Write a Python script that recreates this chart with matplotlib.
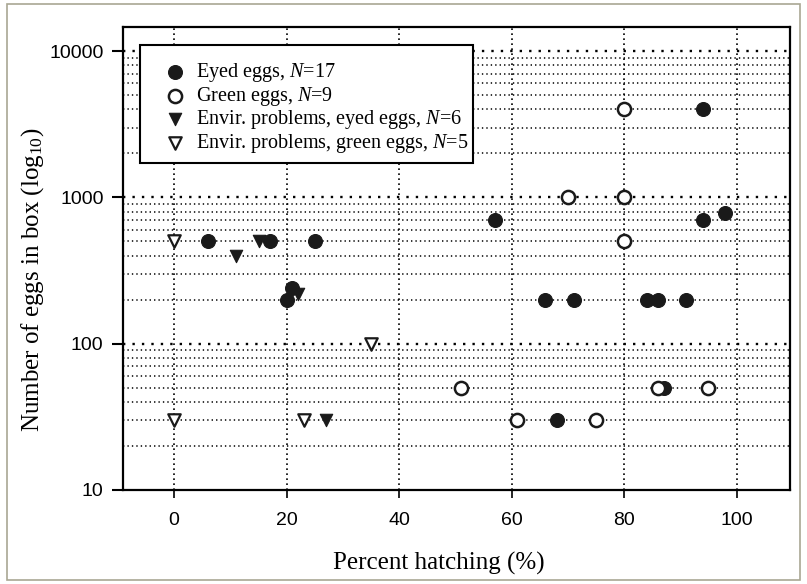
import matplotlib
matplotlib.use('Agg')
import matplotlib.pyplot as plt
from matplotlib.patches import Rectangle
from matplotlib.ticker import FixedLocator, NullFormatter

# percent hatching vs. number of eggs per box
eyed_x = [6, 17, 25, 20, 21, 57, 66, 71, 84, 86, 91, 94, 94, 98, 68, 87]
eyed_y = [500, 500, 500, 200, 240, 700, 200, 200, 200, 200, 200, 4000, 700, 780, 30, 50]

green_x = [80, 70, 80, 80, 51, 61, 75, 86, 95]
green_y = [4000, 1000, 1000, 500, 50, 30, 30, 50, 50]

env_eyed_x = [11, 15, 22, 27]
env_eyed_y = [400, 500, 220, 30]

env_green_x = [0, 0, 23, 35]
env_green_y = [500, 30, 30, 100]

x_ticks = [0, 20, 40, 60, 80, 100]
y_ticks = [10, 100, 1000, 10000]

SERIF = 'Liberation Serif'
SANS = 'Liberation Sans'

plt.rcParams['mathtext.fontset'] = 'custom'
plt.rcParams['mathtext.rm'] = SERIF
plt.rcParams['mathtext.it'] = SERIF + ':italic'

fig = plt.figure(figsize=(8.07, 5.84), dpi=100)
ax = fig.add_axes([0.1524, 0.161, 0.8266, 0.7928])

# thin frame round the whole figure
fig.patches.append(Rectangle((7 / 807, 4 / 584), 793 / 807, 576 / 584,
                             transform=fig.transFigure, fill=False,
                             edgecolor='#a9a793', lw=1.2))

ax.set_yscale('log')
ax.set_xlim(-9.1, 109.5)
ax.set_ylim(10, 14600)

# grid: vertical at major x, horizontal at decades (coarse dots) and steps between (fine dots)
for xv in x_ticks:
    ax.axvline(xv, color='black', lw=1.2, ls=(0, (1, 2)), zorder=1)
for dec in [10, 100, 1000]:
    for k in range(2, 10):
        ax.axhline(dec * k, color='black', lw=1.1, ls=(0, (0.9, 2.0)), zorder=1)
for dec in [100, 1000, 10000]:
    ax.axhline(dec, color='black', lw=1.7, ls=(0, (1, 3.0)), zorder=1)

ms_c = 100
ms_t = 80
ax.scatter(eyed_x, eyed_y, s=ms_c, marker='o', facecolor='#1a1a1a', edgecolor='#1a1a1a',
           lw=0.8, zorder=5, label='Eyed eggs, $N$=17')
ax.scatter(green_x, green_y, s=ms_c * 0.9, marker='o', facecolor='white', edgecolor='#1a1a1a',
           lw=1.8, zorder=5, label='Green eggs, $N$=9')
ax.scatter(env_eyed_x, env_eyed_y, s=ms_t, marker='v', facecolor='#1a1a1a', edgecolor='#1a1a1a',
           lw=0.8, zorder=5, label='Envir. problems, eyed eggs, $N$=6')
ax.scatter(env_green_x, env_green_y, s=ms_t, marker='v', facecolor='white', edgecolor='#1a1a1a',
           lw=1.6, zorder=5, label='Envir. problems, green eggs, $N$=5')

# legend box drawn by hand, entries placed inside it
ax.add_patch(Rectangle((0.0255, 0.7063), 0.4992, 0.2548, transform=ax.transAxes,
                       facecolor='white', edgecolor='black', lw=1.5, zorder=6))
leg = ax.legend(loc='upper left', bbox_to_anchor=(0.064, 0.926), frameon=False,
                prop={'family': SERIF, 'size': 14.5}, borderpad=0, borderaxespad=0,
                handlelength=0.95, handletextpad=0.55, labelspacing=0.03, scatterpoints=1)
leg.set_zorder(7)

ax.xaxis.set_major_locator(FixedLocator(x_ticks))
ax.yaxis.set_major_locator(FixedLocator(y_ticks))
ax.yaxis.set_minor_locator(FixedLocator([]))
ax.yaxis.set_minor_formatter(NullFormatter())
ax.set_yticklabels([str(v) for v in y_ticks])
ax.set_xticklabels([str(v) for v in x_ticks])
ax.tick_params(axis='y', direction='out', length=8, width=1.5, pad=6, labelsize=14)
ax.tick_params(axis='x', direction='out', length=6, width=1.2, pad=10, labelsize=14)
for lab in ax.get_xticklabels() + ax.get_yticklabels():
    lab.set_family(SANS)

for sp in ax.spines.values():
    sp.set_linewidth(1.6)
    sp.set_zorder(8)

ax.set_xlabel('Percent hatching (%)', family=SERIF, fontsize=18)
ax.xaxis.set_label_coords(0.474, -0.133)
ax.set_ylabel('Number of eggs in box (log$_{10}$)', family=SERIF, fontsize=18)
ax.yaxis.set_label_coords(-0.115, 0.454)

fig.savefig('out.png', dpi=100, facecolor='white')
